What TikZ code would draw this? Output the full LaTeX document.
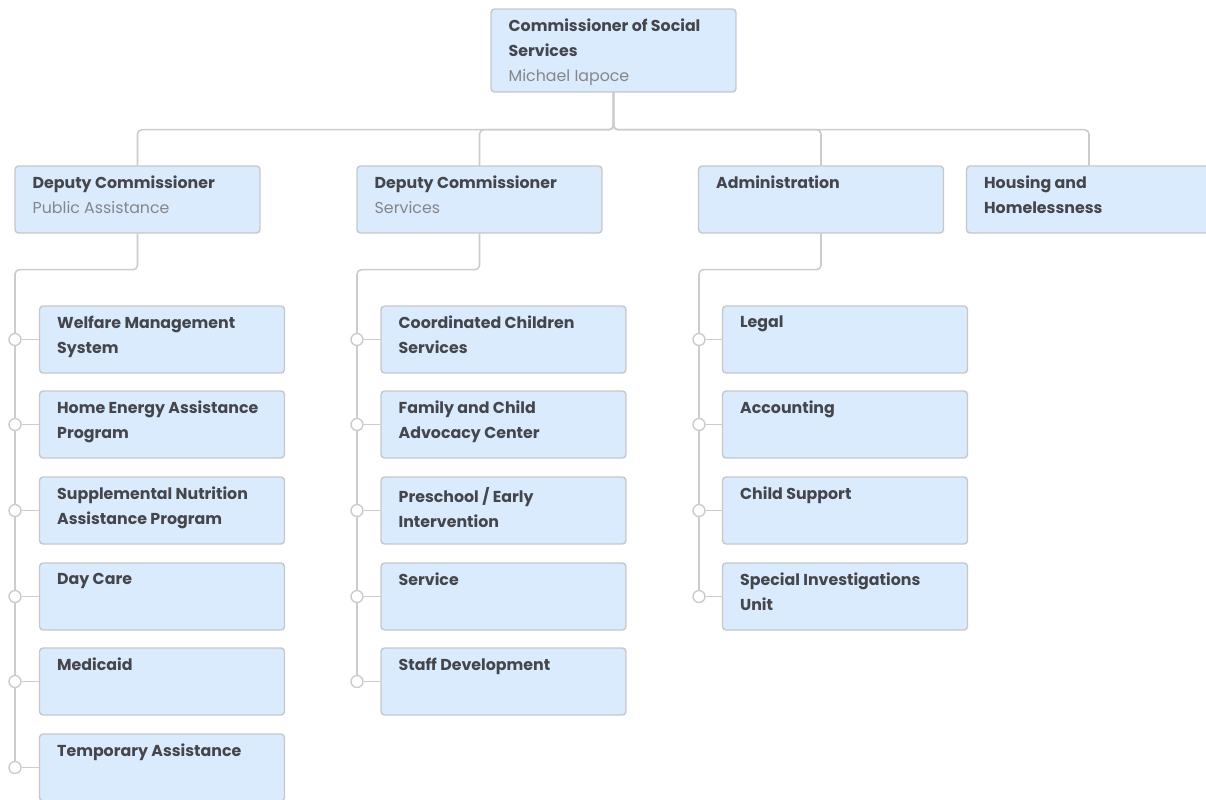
\documentclass[tikz,border=0pt]{standalone}
\usepackage{fontspec}
\setmainfont{Poppins}
\usetikzlibrary{positioning, backgrounds}
\definecolor{boxfill}{HTML}{DAEBFD}
\definecolor{boxline}{HTML}{C4C8CC}
\definecolor{linkgray}{HTML}{CCCCCC}
\definecolor{titlegray}{HTML}{45454C}
\definecolor{subgray}{HTML}{85858A}
\tikzset{
	unitbox/.style={draw=boxline, fill=boxfill, rounded corners=2pt, line width=0.8pt,
		minimum width=4.9cm, minimum height=1.34cm, inner sep=0pt},
	unittext/.style={inner sep=0pt, align=left, text=titlegray,
		font=\fontsize{9}{14.2}\selectfont\bfseries},
	knob/.style={circle, draw=linkgray, fill=white, line width=0.8pt, minimum size=0.24cm, inner sep=0pt},
	link/.style={draw=linkgray, line width=0.9pt, rounded corners=2.5pt}
}
\newcommand{\subline}[1]{\\{\mdseries\color{subgray}#1}}

\begin{document}
\begin{tikzpicture}[x=0.02cm, y=-0.02cm]
		\useasboundingbox (0,0) rectangle (1206,799);
		\clip (0,0) rectangle (1206,799);
		
		% top and second level
		\node[unitbox, minimum height=1.66cm] (top) at (613.5,50.5) {};
		\node[unitbox] (pa) at (137.5,199.5) {};
		\node[unitbox] (sv) at (479.5,199.5) {};
		\node[unitbox] (ad) at (821,199.5) {};
		\node[unitbox] (hh) at (1089,199.5) {};
		
		\node[unittext, below right=0.21cm and 0.36cm of top.north west] (top-t) {Commissioner of Social\\Services\subline{Michael Iapoce}};
		\node[unittext, below right=0.21cm and 0.36cm of pa.north west] (pa-t) {Deputy Commissioner\subline{Public Assistance}};
		\node[unittext, below right=0.21cm and 0.36cm of sv.north west] (sv-t) {Deputy Commissioner\subline{Services}};
		\node[unittext, below right=0.21cm and 0.36cm of ad.north west] (ad-t) {Administration};
		\node[unittext, below right=0.21cm and 0.36cm of hh.north west] (hh-t) {Housing and\\Homelessness};
		
		% public assistance
		\node[unitbox] (wm) at (162,339.5) {};
		\node[unitbox] (he) at (162,424.5) {};
		\node[unitbox] (sn) at (162,510.5) {};
		\node[unitbox] (dc) at (162,596.5) {};
		\node[unitbox] (md) at (162,681.5) {};
		\node[unitbox] (ta) at (162,767.5) {};
		\node[unittext, below right=0.21cm and 0.36cm of wm.north west] (wm-t) {Welfare Management\\System};
		\node[unittext, below right=0.21cm and 0.36cm of he.north west] (he-t) {Home Energy Assistance\\Program};
		\node[unittext, below right=0.21cm and 0.36cm of sn.north west] (sn-t) {Supplemental Nutrition\\Assistance Program};
		\node[unittext, below right=0.21cm and 0.36cm of dc.north west] (dc-t) {Day Care};
		\node[unittext, below right=0.21cm and 0.36cm of md.north west] (md-t) {Medicaid};
		\node[unittext, below right=0.21cm and 0.36cm of ta.north west] (ta-t) {Temporary Assistance};
		\node[knob] (wm-k) at (15,339.5) {};
		\node[knob] (he-k) at (15,424.5) {};
		\node[knob] (sn-k) at (15,510.5) {};
		\node[knob] (dc-k) at (15,596.5) {};
		\node[knob] (md-k) at (15,681.5) {};
		\node[knob] (ta-k) at (15,767.5) {};
		
		% services
		\node[unitbox] (cc) at (503.5,339.5) {};
		\node[unitbox] (fc) at (503.5,424.5) {};
		\node[unitbox] (pe) at (503.5,510.5) {};
		\node[unitbox] (se) at (503.5,596.5) {};
		\node[unitbox] (sd) at (503.5,681.5) {};
		\node[unittext, below right=0.21cm and 0.36cm of cc.north west] (cc-t) {Coordinated Children\\Services};
		\node[unittext, below right=0.21cm and 0.36cm of fc.north west] (fc-t) {Family and Child\\Advocacy Center};
		\node[unittext, below right=0.21cm and 0.36cm of pe.north west] (pe-t) {Preschool / Early\\Intervention};
		\node[unittext, below right=0.21cm and 0.36cm of se.north west] (se-t) {Service};
		\node[unittext, below right=0.21cm and 0.36cm of sd.north west] (sd-t) {Staff Development};
		\node[knob] (cc-k) at (357,339.5) {};
		\node[knob] (fc-k) at (357,424.5) {};
		\node[knob] (pe-k) at (357,510.5) {};
		\node[knob] (se-k) at (357,596.5) {};
		\node[knob] (sd-k) at (357,681.5) {};
		
		% administration
		\node[unitbox] (lg) at (845,339.5) {};
		\node[unitbox] (ac) at (845,424.5) {};
		\node[unitbox] (cs) at (845,510.5) {};
		\node[unitbox] (si) at (845,596.5) {};
		\node[unittext, below right=0.21cm and 0.36cm of lg.north west] (lg-t) {Legal};
		\node[unittext, below right=0.21cm and 0.36cm of ac.north west] (ac-t) {Accounting};
		\node[unittext, below right=0.21cm and 0.36cm of cs.north west] (cs-t) {Child Support};
		\node[unittext, below right=0.21cm and 0.36cm of si.north west] (si-t) {Special Investigations\\Unit};
		\node[knob] (lg-k) at (699,339.5) {};
		\node[knob] (ac-k) at (699,424.5) {};
		\node[knob] (cs-k) at (699,510.5) {};
		\node[knob] (si-k) at (699,596.5) {};
		
		\begin{scope}[on background layer]
		\draw[link] (top.south) -- ++(0,37) -| (pa.north);
		\draw[link] (top.south) -- ++(0,37) -| (sv.north);
		\draw[link] (top.south) -- ++(0,37) -| (ad.north);
		\draw[link] (top.south) -- ++(0,37) -| (hh.north);
		
		\draw[link] (pa.south) -- ++(0,36) -| (ta-k.center);
		\draw[link] (sv.south) -- ++(0,36) -| (sd-k.center);
		\draw[link] (ad.south) -- ++(0,36) -| (si-k.center);
		
		\draw[link] (wm-k) -- (wm);
		\draw[link] (he-k) -- (he);
		\draw[link] (sn-k) -- (sn);
		\draw[link] (dc-k) -- (dc);
		\draw[link] (md-k) -- (md);
		\draw[link] (ta-k) -- (ta);
		\draw[link] (cc-k) -- (cc);
		\draw[link] (fc-k) -- (fc);
		\draw[link] (pe-k) -- (pe);
		\draw[link] (se-k) -- (se);
		\draw[link] (sd-k) -- (sd);
		\draw[link] (lg-k) -- (lg);
		\draw[link] (ac-k) -- (ac);
		\draw[link] (cs-k) -- (cs);
		\draw[link] (si-k) -- (si);
		\end{scope}
		
		\end{tikzpicture}
\end{document}
